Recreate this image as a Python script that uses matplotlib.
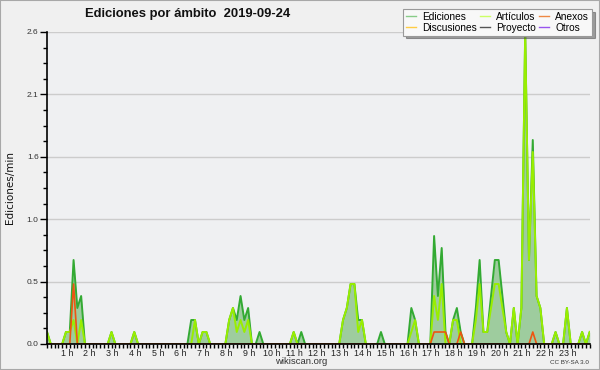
import numpy as np
import matplotlib
matplotlib.use("Agg")
from matplotlib import pyplot as plt
from matplotlib.lines import Line2D
from matplotlib.patches import Rectangle
from matplotlib.ticker import FixedLocator, AutoMinorLocator, MultipleLocator
from matplotlib.transforms import ScaledTranslation

plt.rcParams['font.family'] = ['Liberation Sans', 'DejaVu Sans']

# edits per minute, one value per 10-minute slot (one row = one hour)
ediciones = [
    0.1, 0, 0, 0, 0, 0.1,
    0.1, 0.7, 0.3, 0.4, 0, 0,
    0, 0, 0, 0, 0, 0.1,
    0, 0, 0, 0, 0, 0.1,
    0, 0, 0, 0, 0, 0,
    0, 0, 0, 0, 0, 0,
    0, 0, 0.2, 0.2, 0, 0.1,
    0.1, 0, 0, 0, 0, 0,
    0.2, 0.3, 0.2, 0.4, 0.2, 0.3,
    0, 0, 0.1, 0, 0, 0,
    0, 0, 0, 0, 0, 0.1,
    0, 0.1, 0, 0, 0, 0,
    0, 0, 0, 0, 0, 0,
    0.2, 0.3, 0.5, 0.5, 0.2, 0.2,
    0, 0, 0, 0, 0.1, 0,
    0, 0, 0, 0, 0, 0,
    0.3, 0.2, 0, 0, 0, 0,
    0.9, 0.4, 0.8, 0.1, 0, 0.2,
    0.3, 0.1, 0, 0, 0, 0.3,
    0.7, 0.1, 0.1, 0.4, 0.7, 0.7,
    0.4, 0.1, 0, 0.3, 0, 0.3,
    2.6, 0.7, 1.7, 0.4, 0.3, 0,
    0, 0, 0.1, 0, 0, 0.3,
    0, 0, 0, 0.1, 0, 0.1,
]
articulos = [
    0.1, 0, 0, 0, 0, 0.1,
    0.1, 0.2, 0, 0.2, 0, 0,
    0, 0, 0, 0, 0, 0.1,
    0, 0, 0, 0, 0, 0.1,
    0, 0, 0, 0, 0, 0,
    0, 0, 0, 0, 0, 0,
    0, 0, 0, 0.2, 0, 0.1,
    0.1, 0, 0, 0, 0, 0,
    0.2, 0.3, 0.1, 0.2, 0.1, 0.2,
    0, 0, 0, 0, 0, 0,
    0, 0, 0, 0, 0, 0.1,
    0, 0, 0, 0, 0, 0,
    0, 0, 0, 0, 0, 0,
    0.2, 0.3, 0.5, 0.5, 0.1, 0.2,
    0, 0, 0, 0, 0, 0,
    0, 0, 0, 0, 0, 0,
    0.1, 0.2, 0, 0, 0, 0,
    0.4, 0.2, 0.5, 0, 0, 0.2,
    0.2, 0, 0, 0, 0, 0.2,
    0.5, 0.1, 0.1, 0.3, 0.5, 0.5,
    0.3, 0.1, 0, 0.3, 0, 0.3,
    2.6, 0.7, 1.6, 0.4, 0.3, 0,
    0, 0, 0.1, 0, 0, 0.3,
    0, 0, 0, 0.1, 0, 0.1,
]
anexos = [
    0, 0, 0, 0, 0, 0,
    0, 0.5, 0, 0, 0, 0,
    0, 0, 0, 0, 0, 0,
    0, 0, 0, 0, 0, 0,
    0, 0, 0, 0, 0, 0,
    0, 0, 0, 0, 0, 0,
    0, 0, 0, 0, 0, 0,
    0, 0, 0, 0, 0, 0,
    0, 0, 0, 0, 0, 0,
    0, 0, 0, 0, 0, 0,
    0, 0, 0, 0, 0, 0,
    0, 0, 0, 0, 0, 0,
    0, 0, 0, 0, 0, 0,
    0, 0, 0, 0, 0, 0,
    0, 0, 0, 0, 0, 0,
    0, 0, 0, 0, 0, 0,
    0, 0, 0, 0, 0, 0,
    0.1, 0.1, 0.1, 0.1, 0, 0,
    0, 0.1, 0, 0, 0, 0,
    0, 0, 0, 0, 0, 0,
    0, 0, 0, 0, 0, 0,
    0, 0, 0.1, 0, 0, 0,
    0, 0, 0, 0, 0, 0,
    0, 0, 0, 0, 0, 0,
]
# these scopes had no edits that day
discusiones = np.zeros(len(ediciones))
proyecto = np.zeros(len(ediciones))
otros = np.zeros(len(ediciones))

horas = np.arange(len(ediciones)) / 6.0
hour_ticks = list(range(1, 24))
hour_labels = ["{} h".format(h) for h in hour_ticks]
y_max = 2.6

fig = plt.figure(figsize=(6, 3.7), dpi=100)
fig.patch.set_facecolor('#f0f0f0')
fig.patches.append(Rectangle((0, 0), 1, 1, transform=fig.transFigure, fill=False,
                             edgecolor='#a8a8a8', lw=1.5))

ax = fig.add_axes([47 / 600, 26 / 370, 542.7 / 600, 312 / 370])
ax.set_facecolor('#eff0f2')

# filled total, then the scopes on top
ax.fill_between(horas, ediciones, 0, color='#9ecc9e', lw=0, zorder=1)
ax.plot(horas, discusiones, color='#ffcc44', lw=1, zorder=1.5)
ax.plot(horas, proyecto, color='#555555', lw=1, zorder=1.5)
ax.plot(horas, otros, color='#9944ee', lw=1, zorder=1.5)
ax.plot(horas, ediciones, color='#33aa33', lw=1.4, zorder=2)
ax.plot(horas, articulos, color='#99ee00', lw=1.4, zorder=2.1)
ax.plot(horas, anexos, color='#ee5511', lw=1.2, zorder=2.2)

ax.set_xlim(0, horas[-1])
ax.set_ylim(0, y_max)

# Set axis
ax.spines['top'].set_visible(False)
ax.spines['right'].set_visible(False)
ax.spines['left'].set_linewidth(1.2)
ax.spines['bottom'].set_linewidth(1.2)

y_ticks = np.linspace(0, y_max, 6)
ax.yaxis.set_major_locator(FixedLocator(y_ticks))
ax.set_yticklabels(["{:.1f}".format(v) for v in y_ticks])
ax.yaxis.set_minor_locator(AutoMinorLocator(4))
ax.xaxis.set_major_locator(FixedLocator(hour_ticks))
ax.set_xticklabels(hour_labels)
ax.xaxis.set_minor_locator(MultipleLocator(1 / 6.0))

ax.tick_params(axis='y', which='major', length=5, width=1, pad=1, labelsize=6, labelcolor='#333333')
ax.tick_params(axis='y', which='minor', length=3, width=1)
ax.tick_params(axis='x', which='both', length=3, width=1, pad=0.5, labelsize=6.4, labelcolor='#222222')
shift = ScaledTranslation(-3 / 100, 0, fig.dpi_scale_trans)
for lab in ax.get_xticklabels():
    lab.set_transform(lab.get_transform() + shift)

ax.grid(True, axis='y', which='major', color='#cccccc', lw=1)
ax.set_axisbelow(True)

fig.text(188 / 600, 1 - 14 / 370, "Ediciones por ámbito  2019-09-24", ha='center', va='center',
         fontsize=9.4, fontweight='bold', color='#111111')
fig.text(10 / 600, 1 - 188 / 370, "Ediciones/min", rotation=90, ha='center', va='center',
         fontsize=7.5, family=['DejaVu Sans'], color='#111111')
fig.text(301 / 600, 1 - 361 / 370, "wikiscan.org", ha='center', va='center', fontsize=6.8, color='#333333')
fig.text(589 / 600, 1 - 362.5 / 370, "CC BY-SA 3.0", ha='right', va='center', fontsize=4.5, color='#333333')

# legend, column-major like the original
names = ['Ediciones', 'Discusiones', 'Artículos', 'Proyecto', 'Anexos', 'Otros']
colors = ['#88cc88', '#ffcc44', '#ccff66', '#555555', '#ee8844', '#9955ee']
handles = [Line2D([], [], color=c, lw=1) for c in colors]
leg = fig.legend(handles, names, loc='upper right', bbox_to_anchor=(592 / 600, 1 - 9 / 370),
                 ncol=3, fontsize=7.3, handlelength=1.0, handletextpad=0.6, columnspacing=0.3,
                 labelspacing=0.05, borderpad=0.3, borderaxespad=0, fancybox=False, shadow=True,
                 framealpha=1, facecolor='#f8f8f8', edgecolor='#999999')
leg.get_frame().set_linewidth(0.8)

fig.savefig('out.png', dpi=100, facecolor=fig.get_facecolor())
